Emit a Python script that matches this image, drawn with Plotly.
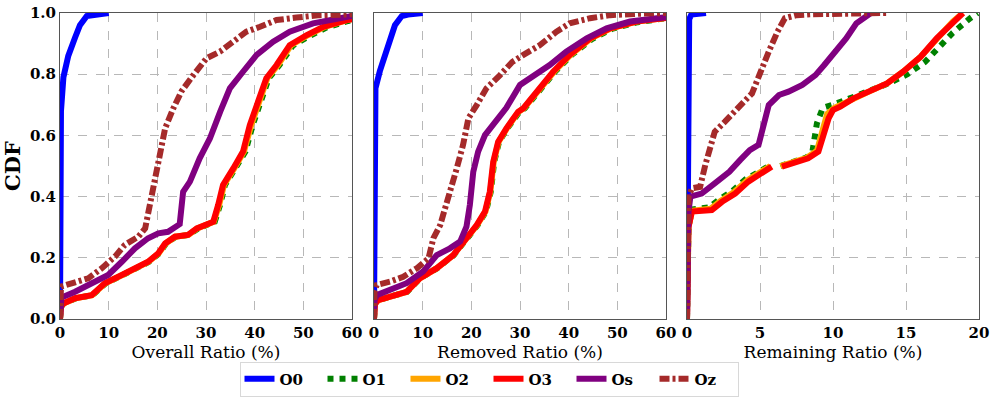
import plotly.graph_objects as go

# ---------------- data ----------------
series_names = ["O0", "O1", "O2", "O3", "Os", "Oz"]
series_colors = ["blue", "green", "orange", "red", "purple", "brown"]
series_dash = ["solid", "dot", "solid", "solid", "solid", "10px,3px,3px,3px"]

panel_titles = ["Overall Ratio (%)", "Removed Ratio (%)", "Remaining Ratio (%)"]
panel_xmax = [60, 60, 20]
x_ticks_60 = [0, 10, 20, 30, 40, 50, 60]
x_ticks_20 = [0, 5, 10, 15, 20]
y_ticks = [0.0, 0.2, 0.4, 0.6, 0.8, 1.0]

# ---- Panel 1: Overall ratio ----
overall_O0_x = [0, 0, 0.1, 0.2, 0.7, 1.7, 3.1, 4.1, 5.5, 7.0, 10.0]
overall_O0_y = [0, 0.1, 0.5, 0.68, 0.79, 0.86, 0.92, 0.96, 0.99, 0.995, 1.0]

overall_O1_x = [0, 0.2, 0.8, 3.3, 6.7, 9.4, 12.9, 15.6, 18.3, 20.4, 21.8, 23.8, 26.5, 28.4, 31.8, 32.9, 33.9, 36.0, 38.1, 39.6, 41.6, 42.9, 45.1, 47.8, 51.3, 54.7, 59.2, 60]
overall_O1_y = [0, 0.04, 0.051, 0.068, 0.078, 0.117, 0.144, 0.166, 0.187, 0.215, 0.247, 0.269, 0.275, 0.296, 0.318, 0.373, 0.438, 0.492, 0.547, 0.634, 0.721, 0.787, 0.83, 0.893, 0.925, 0.952, 0.974, 0.977]

overall_O2_x = [0, 0.2, 0.7, 3.2, 6.6, 9.3, 12.8, 15.5, 18.2, 20.3, 21.7, 23.7, 26.4, 28.2, 31.6, 32.7, 33.7, 35.8, 37.8, 39.3, 41.3, 42.6, 44.8, 47.5, 51.0, 54.4, 59.0, 60]
overall_O2_y = [0, 0.04, 0.051, 0.068, 0.078, 0.117, 0.144, 0.166, 0.187, 0.215, 0.247, 0.269, 0.275, 0.296, 0.318, 0.373, 0.438, 0.492, 0.547, 0.634, 0.721, 0.787, 0.83, 0.895, 0.928, 0.955, 0.977, 0.98]

overall_O3_x = [0, 0.2, 0.7, 3.1, 6.5, 9.2, 12.7, 15.4, 18.1, 20.2, 21.6, 23.6, 26.3, 28.1, 31.5, 32.5, 33.5, 35.6, 37.6, 39.0, 41.1, 42.4, 44.5, 47.2, 50.7, 54.1, 58.9, 60]
overall_O3_y = [0, 0.04, 0.051, 0.068, 0.078, 0.117, 0.144, 0.166, 0.187, 0.215, 0.247, 0.269, 0.275, 0.296, 0.318, 0.373, 0.438, 0.492, 0.547, 0.634, 0.721, 0.787, 0.83, 0.895, 0.928, 0.955, 0.977, 0.98]

overall_Os_x = [0, 0.1, 0.3, 3.1, 7.2, 9.9, 12.7, 15.4, 18.1, 20.2, 22.2, 24.6, 25.3, 26.7, 28.7, 30.8, 32.9, 34.9, 37.6, 40.4, 43.8, 47.2, 52.0, 56.1, 59.5, 60]
overall_Os_y = [0, 0.06, 0.07, 0.089, 0.122, 0.144, 0.187, 0.231, 0.264, 0.28, 0.285, 0.31, 0.416, 0.449, 0.525, 0.59, 0.677, 0.754, 0.808, 0.863, 0.906, 0.939, 0.966, 0.977, 0.988, 0.99]

overall_Oz_x = [0, 0.1, 0.2, 3.1, 5.8, 8.6, 11.3, 13.3, 16.1, 17.5, 18.5, 19.5, 20.5, 21.6, 23.3, 25.0, 27.4, 30.1, 32.9, 35.6, 38.3, 41.1, 44.5, 48.6, 53.4, 58.9, 60]
overall_Oz_y = [0, 0.09, 0.106, 0.12, 0.133, 0.166, 0.204, 0.242, 0.269, 0.296, 0.373, 0.449, 0.547, 0.623, 0.689, 0.745, 0.797, 0.852, 0.874, 0.906, 0.939, 0.955, 0.977, 0.985, 0.993, 0.995, 0.996]

# ---- Panel 2: Removed ratio ----
removed_O0_x = [0, 0, 0.1, 0.3, 1.2, 2.3, 3.3, 4.3, 5.7, 7.0, 10.0]
removed_O0_y = [0, 0.1, 0.5, 0.754, 0.81, 0.863, 0.917, 0.96, 0.99, 0.995, 1.0]

removed_O1_x = [0, 0.2, 0.9, 4.1, 6.8, 9.5, 13.0, 16.4, 19.2, 21.3, 23.0, 24.0, 24.7, 25.7, 27.4, 29.9, 31.0, 33.7, 37.2, 40.6, 44.8, 48.9, 54.2, 59.5, 60]
removed_O1_y = [0, 0.05, 0.062, 0.078, 0.089, 0.133, 0.166, 0.209, 0.264, 0.307, 0.351, 0.416, 0.514, 0.579, 0.623, 0.677, 0.689, 0.743, 0.808, 0.863, 0.915, 0.948, 0.97, 0.982, 0.983]

removed_O2_x = [0, 0.2, 0.9, 4.0, 6.7, 9.4, 12.9, 16.3, 19.1, 21.2, 22.9, 23.9, 24.6, 25.6, 27.3, 29.7, 30.8, 33.5, 37.0, 40.4, 44.6, 48.7, 54.0, 59.4, 60]
removed_O2_y = [0, 0.05, 0.062, 0.078, 0.089, 0.133, 0.166, 0.209, 0.264, 0.307, 0.351, 0.416, 0.514, 0.579, 0.623, 0.677, 0.689, 0.743, 0.808, 0.863, 0.917, 0.95, 0.972, 0.983, 0.984]

removed_O3_x = [0, 0.2, 0.9, 4.0, 6.7, 9.4, 12.9, 16.3, 19.0, 21.1, 22.8, 23.8, 24.5, 25.5, 27.2, 29.6, 30.7, 33.4, 36.8, 40.2, 44.4, 48.5, 53.9, 59.4, 60]
removed_O3_y = [0, 0.05, 0.062, 0.078, 0.089, 0.133, 0.166, 0.209, 0.264, 0.307, 0.351, 0.416, 0.514, 0.579, 0.623, 0.677, 0.689, 0.743, 0.808, 0.863, 0.917, 0.95, 0.972, 0.983, 0.984]

removed_Os_x = [0, 0.1, 0.55, 3.3, 6.7, 10.1, 12.9, 15.6, 17.7, 19.0, 19.7, 20.4, 21.4, 22.8, 24.8, 27.2, 30.0, 32.7, 36.1, 39.5, 43.7, 47.8, 52.6, 59.4, 60]
removed_Os_y = [0, 0.06, 0.078, 0.095, 0.117, 0.155, 0.209, 0.231, 0.253, 0.302, 0.373, 0.481, 0.547, 0.601, 0.645, 0.69, 0.765, 0.792, 0.83, 0.874, 0.917, 0.95, 0.972, 0.985, 0.986]

removed_Oz_x = [0, 0.1, 0.55, 3.3, 6.0, 8.8, 11.2, 12.2, 13.6, 15.3, 17.0, 18.3, 19.4, 21.1, 23.1, 25.9, 28.4, 30.7, 34.1, 37.5, 40.2, 44.4, 48.5, 55.3, 60]
removed_Oz_y = [0, 0.09, 0.111, 0.122, 0.138, 0.166, 0.198, 0.264, 0.307, 0.394, 0.492, 0.569, 0.656, 0.699, 0.754, 0.797, 0.84, 0.863, 0.895, 0.939, 0.966, 0.983, 0.993, 0.998, 1.0]

# ---- Panel 3: Remaining ratio ----
remaining_O0_x = [0, 0.1, 0.15, 0.3, 1.3]
remaining_O0_y = [0, 0.4, 0.98, 0.995, 1.0]

remaining_O1_x = [0, 0.1, 0.34, 1.5, 2.2, 3.1, 4.0, 4.9, 5.7, None, 6.4, 7.3, 8.2, 8.6, 8.9, 9.3, 10.0, 11.3, 12.5, 13.8, 15.1, 16.3, 17.3, 18.2, 19.4, 19.9]
remaining_O1_y = [0, 0.3, 0.358, 0.365, 0.39, 0.418, 0.456, 0.482, 0.502, None, 0.5, 0.512, 0.528, 0.55, 0.64, 0.69, 0.7, 0.724, 0.744, 0.77, 0.8, 0.84, 0.89, 0.935, 0.983, 1.0]

remaining_O2_x = [0, 0.1, 0.34, 1.6, 2.3, 3.2, 4.1, 5.0, 5.7, None, 6.4, 7.3, 8.2, 8.9, 9.2, 9.6, 10.1, 11.4, 12.5, 13.7, 14.8, 16.0, 17.1, 18.2, 18.9]
remaining_O2_y = [0, 0.3, 0.354, 0.36, 0.386, 0.414, 0.452, 0.479, 0.5, None, 0.5, 0.511, 0.527, 0.55, 0.61, 0.67, 0.69, 0.722, 0.744, 0.77, 0.808, 0.857, 0.917, 0.972, 1.0]

remaining_O3_x = [0, 0.1, 0.34, 1.7, 2.4, 3.3, 4.2, 5.1, 5.8, None, 6.5, 7.4, 8.3, 9.0, 9.35, 9.7, 10.0, 10.5, 11.4, 12.5, 13.7, 14.8, 16.0, 17.1, 18.2, 18.9]
remaining_O3_y = [0, 0.3, 0.351, 0.356, 0.383, 0.41, 0.449, 0.476, 0.498, None, 0.498, 0.509, 0.525, 0.547, 0.601, 0.656, 0.683, 0.694, 0.721, 0.743, 0.77, 0.808, 0.857, 0.917, 0.972, 1.0]

remaining_Os_x = [0, 0.1, 0.23, 1.0, 1.9, 2.9, 3.65, 4.3, 4.9, 5.25, 5.6, 6.3, 6.95, 7.9, 8.8, 9.4, 10.0, 10.9, 11.6, 12.3, 12.6]
remaining_Os_y = [0, 0.35, 0.40, 0.41, 0.443, 0.481, 0.52, 0.552, 0.569, 0.645, 0.699, 0.732, 0.743, 0.765, 0.797, 0.83, 0.863, 0.917, 0.966, 0.993, 1.0]

remaining_Oz_x = [0, 0.1, 0.34, 0.9, 1.25, 1.6, 1.9, 2.6, 3.3, 3.9, 4.45, 5.0, 5.6, 6.2, 6.7, 7.5, 8.5, 13.7]
remaining_Oz_y = [0, 0.4, 0.427, 0.432, 0.503, 0.558, 0.612, 0.645, 0.677, 0.71, 0.737, 0.808, 0.874, 0.939, 0.983, 0.993, 0.996, 1.0]

panel_data = [
    [(overall_O0_x, overall_O0_y), (overall_O1_x, overall_O1_y), (overall_O2_x, overall_O2_y),
     (overall_O3_x, overall_O3_y), (overall_Os_x, overall_Os_y), (overall_Oz_x, overall_Oz_y)],
    [(removed_O0_x, removed_O0_y), (removed_O1_x, removed_O1_y), (removed_O2_x, removed_O2_y),
     (removed_O3_x, removed_O3_y), (removed_Os_x, removed_Os_y), (removed_Oz_x, removed_Oz_y)],
    [(remaining_O0_x, remaining_O0_y), (remaining_O1_x, remaining_O1_y), (remaining_O2_x, remaining_O2_y),
     (remaining_O3_x, remaining_O3_y), (remaining_Os_x, remaining_Os_y), (remaining_Oz_x, remaining_Oz_y)],
]

# ---------------- figure ----------------
W, H = 997, 399


def px_x(sx):
    return sx / W


def px_y(sy):
    return 1 - sy / H


fig = go.Figure()

x_domains = [(px_x(60), px_x(352)), (px_x(374), px_x(666)), (px_x(687), px_x(979))]
y_domain = (px_y(319), px_y(13))

SERIF = "DejaVu Serif"

for p in range(3):
    xa = "x" if p == 0 else f"x{p+1}"
    ya = "y" if p == 0 else f"y{p+1}"
    for s in range(6):
        xs, ys = panel_data[p][s]
        fig.add_trace(go.Scatter(
            x=xs, y=ys, mode="lines",
            name=series_names[s],
            legendgroup=series_names[s],
            showlegend=(p == 0),
            line=dict(color=series_colors[s], width=6, dash=series_dash[s]),
            xaxis=xa, yaxis=ya,
            hoverinfo="skip",
        ))

axis_common = dict(
    showgrid=True, gridcolor="#b8b8b8", griddash="dash", gridwidth=1,
    showline=True, linecolor="#555555", linewidth=1, mirror=True,
    zeroline=False, ticks="", automargin=False, ticklabeloverflow="allow",
    tickfont=dict(family=SERIF, size=15, color="black", weight="bold"),
)

layout = dict(
    width=W, height=H,
    margin=dict(l=0, r=0, t=0, b=0, autoexpand=False),
    paper_bgcolor="white", plot_bgcolor="white",
    showlegend=True,
    legend=dict(
        orientation="h", x=px_x(489), y=px_y(379), xanchor="center", yanchor="middle",
        font=dict(family=SERIF, size=15, color="black", weight="bold"),
        bordercolor="#d8d8d8", borderwidth=1, bgcolor="white",
        entrywidth=38, entrywidthmode="pixels",
        itemwidth=30,
    ),
)

for p in range(3):
    xkey = "xaxis" if p == 0 else f"xaxis{p+1}"
    ykey = "yaxis" if p == 0 else f"yaxis{p+1}"
    anchor_y = "y" if p == 0 else f"y{p+1}"
    anchor_x = "x" if p == 0 else f"x{p+1}"
    ticks = x_ticks_60 if panel_xmax[p] == 60 else x_ticks_20
    layout[xkey] = dict(
        axis_common, domain=list(x_domains[p]), anchor=anchor_y,
        range=[0, panel_xmax[p]], tickvals=ticks, ticktext=[str(t) for t in ticks],
        title=dict(text=panel_titles[p], font=dict(family=SERIF, size=17, color="black"), standoff=2),
    )
    ydict = dict(
        axis_common, domain=list(y_domain), anchor=anchor_x,
        range=[0, 1], tickvals=y_ticks,
        ticktext=[f"{t:.1f}" for t in y_ticks],
        showticklabels=(p == 0),
    )
    if p == 0:
        ydict["title"] = dict(text="CDF", font=dict(family=SERIF, size=21, color="black", weight="bold"), standoff=6)
    layout[ykey] = ydict

fig.update_layout(**layout)
# remove the browser's default page margin so the figure fills the window
fig.write_html("out.html", config={"displayModeBar": False},
               post_script="document.body.style.margin='0px';")
